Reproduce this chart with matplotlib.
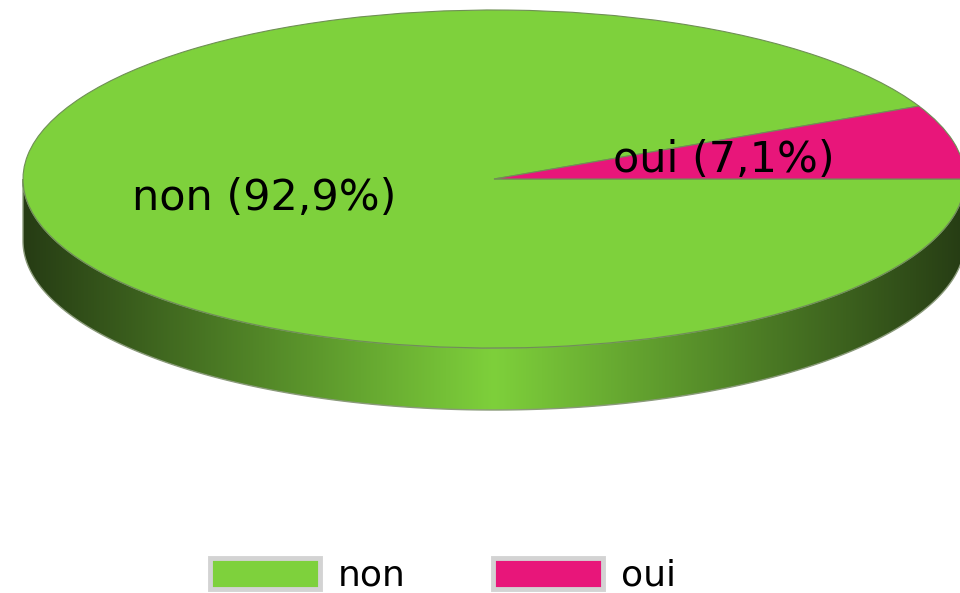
import numpy as np
import matplotlib
matplotlib.use("Agg")
import matplotlib.pyplot as plt
from matplotlib.patches import Polygon

# data
labels = ["non", "oui"]
values = [92.9, 7.1]
colors = ["#7ED13C", "#E8167A"]

# geometry of the flattened pie (pixels in the 960x593 picture)
cx, cy = 494, 179      # centre of the top face
rx, ry = 471, 169      # half axes of the ellipse
depth_px = 62          # thickness of the side

fig = plt.figure(figsize=(9.6, 5.93), dpi=100)
ax = fig.add_axes([0, 0, 1, 1])

names = iter(labels)
wedges, texts, autotexts = ax.pie(
    values, colors=colors, startangle=0, counterclock=False,
    autopct=lambda p: f"{next(names)} ({p:.1f}%)".replace(".", ","),
    pctdistance=0.5,
    wedgeprops=dict(edgecolor="#6f8f55", linewidth=0.8, zorder=2),
    textprops=dict(fontsize=31, color="black", family="DejaVu Sans"),
)
for t in autotexts:
    t.set_zorder(3)

# side of the disc, shaded darker towards both ends
depth = depth_px / ry
t = np.linspace(np.pi, 2 * np.pi, 300)
upper = np.column_stack([np.cos(t), np.sin(t)])
lower = np.column_stack([np.cos(t[::-1]), np.sin(t[::-1]) - depth])
side = Polygon(np.vstack([upper, lower]), closed=True, facecolor="none",
               edgecolor="#8a9a7a", linewidth=1.0, zorder=1)
ax.add_patch(side)

u = np.linspace(-1, 1, 400)
f = (1 - np.abs(u))[:, None]
dark = np.array([38, 60, 20]) / 255
bright = np.array([126, 208, 59]) / 255
grad = (dark + (bright - dark) * f)[None, :, :]
img = ax.imshow(grad, extent=[-1, 1, -1 - depth, 0], aspect="auto",
                zorder=0.5, interpolation="bilinear")
img.set_clip_path(side)

ax.set_aspect("auto")
ax.set_xlim((0 - cx) / rx, (960 - cx) / rx)
ax.set_ylim((cy - 593) / ry, cy / ry)
ax.axis("off")

leg = fig.legend(wedges, labels, loc="center", ncol=2,
                 bbox_to_anchor=(443 / 960, 1 - 575 / 593),
                 frameon=False, fontsize=26, handlelength=3.05,
                 handleheight=0.95, handletextpad=0.5, columnspacing=2.4)
for h in leg.legend_handles:
    h.set_edgecolor("#d3d3d3")
    h.set_linewidth(3.5)

fig.savefig("out.png", dpi=100)
